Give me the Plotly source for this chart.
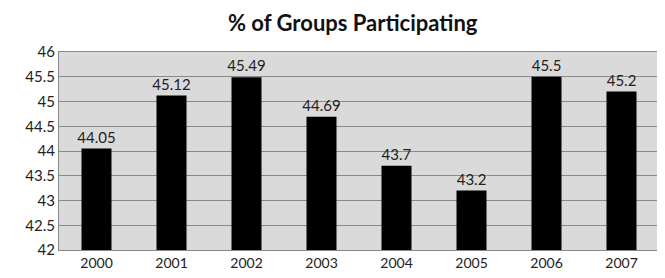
import plotly.graph_objects as go

years = ["2000", "2001", "2002", "2003", "2004", "2005", "2006", "2007"]
values = [44.05, 45.12, 45.49, 44.69, 43.7, 43.2, 45.5, 45.2]
labels = ["44.05", "45.12", "45.49", "44.69", "43.7", "43.2", "45.5", "45.2"]
ytick_vals = [42, 42.5, 43, 43.5, 44, 44.5, 45, 45.5, 46]
ytick_text = ["42", "42.5", "43", "43.5", "44", "44.5", "45", "45.5", "46"]
baseline = 42
title_text = "<b>% of Groups Participating</b>"

fig = go.Figure(go.Bar(
    x=years, y=[v - baseline for v in values], base=baseline,
    marker=dict(color="#000000", line=dict(width=0)),
    width=0.4,
    text=labels, textposition="outside", cliponaxis=False, constraintext="none",
    textfont=dict(family="Lato, sans-serif", size=15, color="#222222"),
))

# browser body margin of 8px shifts the figure; compensate with size
fig.update_layout(
    width=657, height=270,
    margin=dict(l=51, r=6, t=44, b=28),
    paper_bgcolor="white", plot_bgcolor="#dadada",
    showlegend=False,
    font=dict(family="Lato, sans-serif", color="#222222"),
)
fig.add_annotation(text=title_text, xref="paper", yref="paper", x=0.49, y=1.0,
                   yshift=30, xanchor="center", yanchor="middle", showarrow=False,
                   font=dict(family="Lato, sans-serif", size=22, color="#111111"))
fig.update_xaxes(showline=True, linecolor="#888888", linewidth=1, mirror=True,
                 tickfont=dict(size=14), ticks="", showgrid=False)
fig.update_yaxes(range=[42, 46], tickvals=ytick_vals, ticktext=ytick_text,
                 showline=True, linecolor="#888888", linewidth=1, mirror=True,
                 gridcolor="#8a8a8a", gridwidth=1, tickfont=dict(size=15),
                 ticks="", zeroline=False)

fig.write_html("out.html")
